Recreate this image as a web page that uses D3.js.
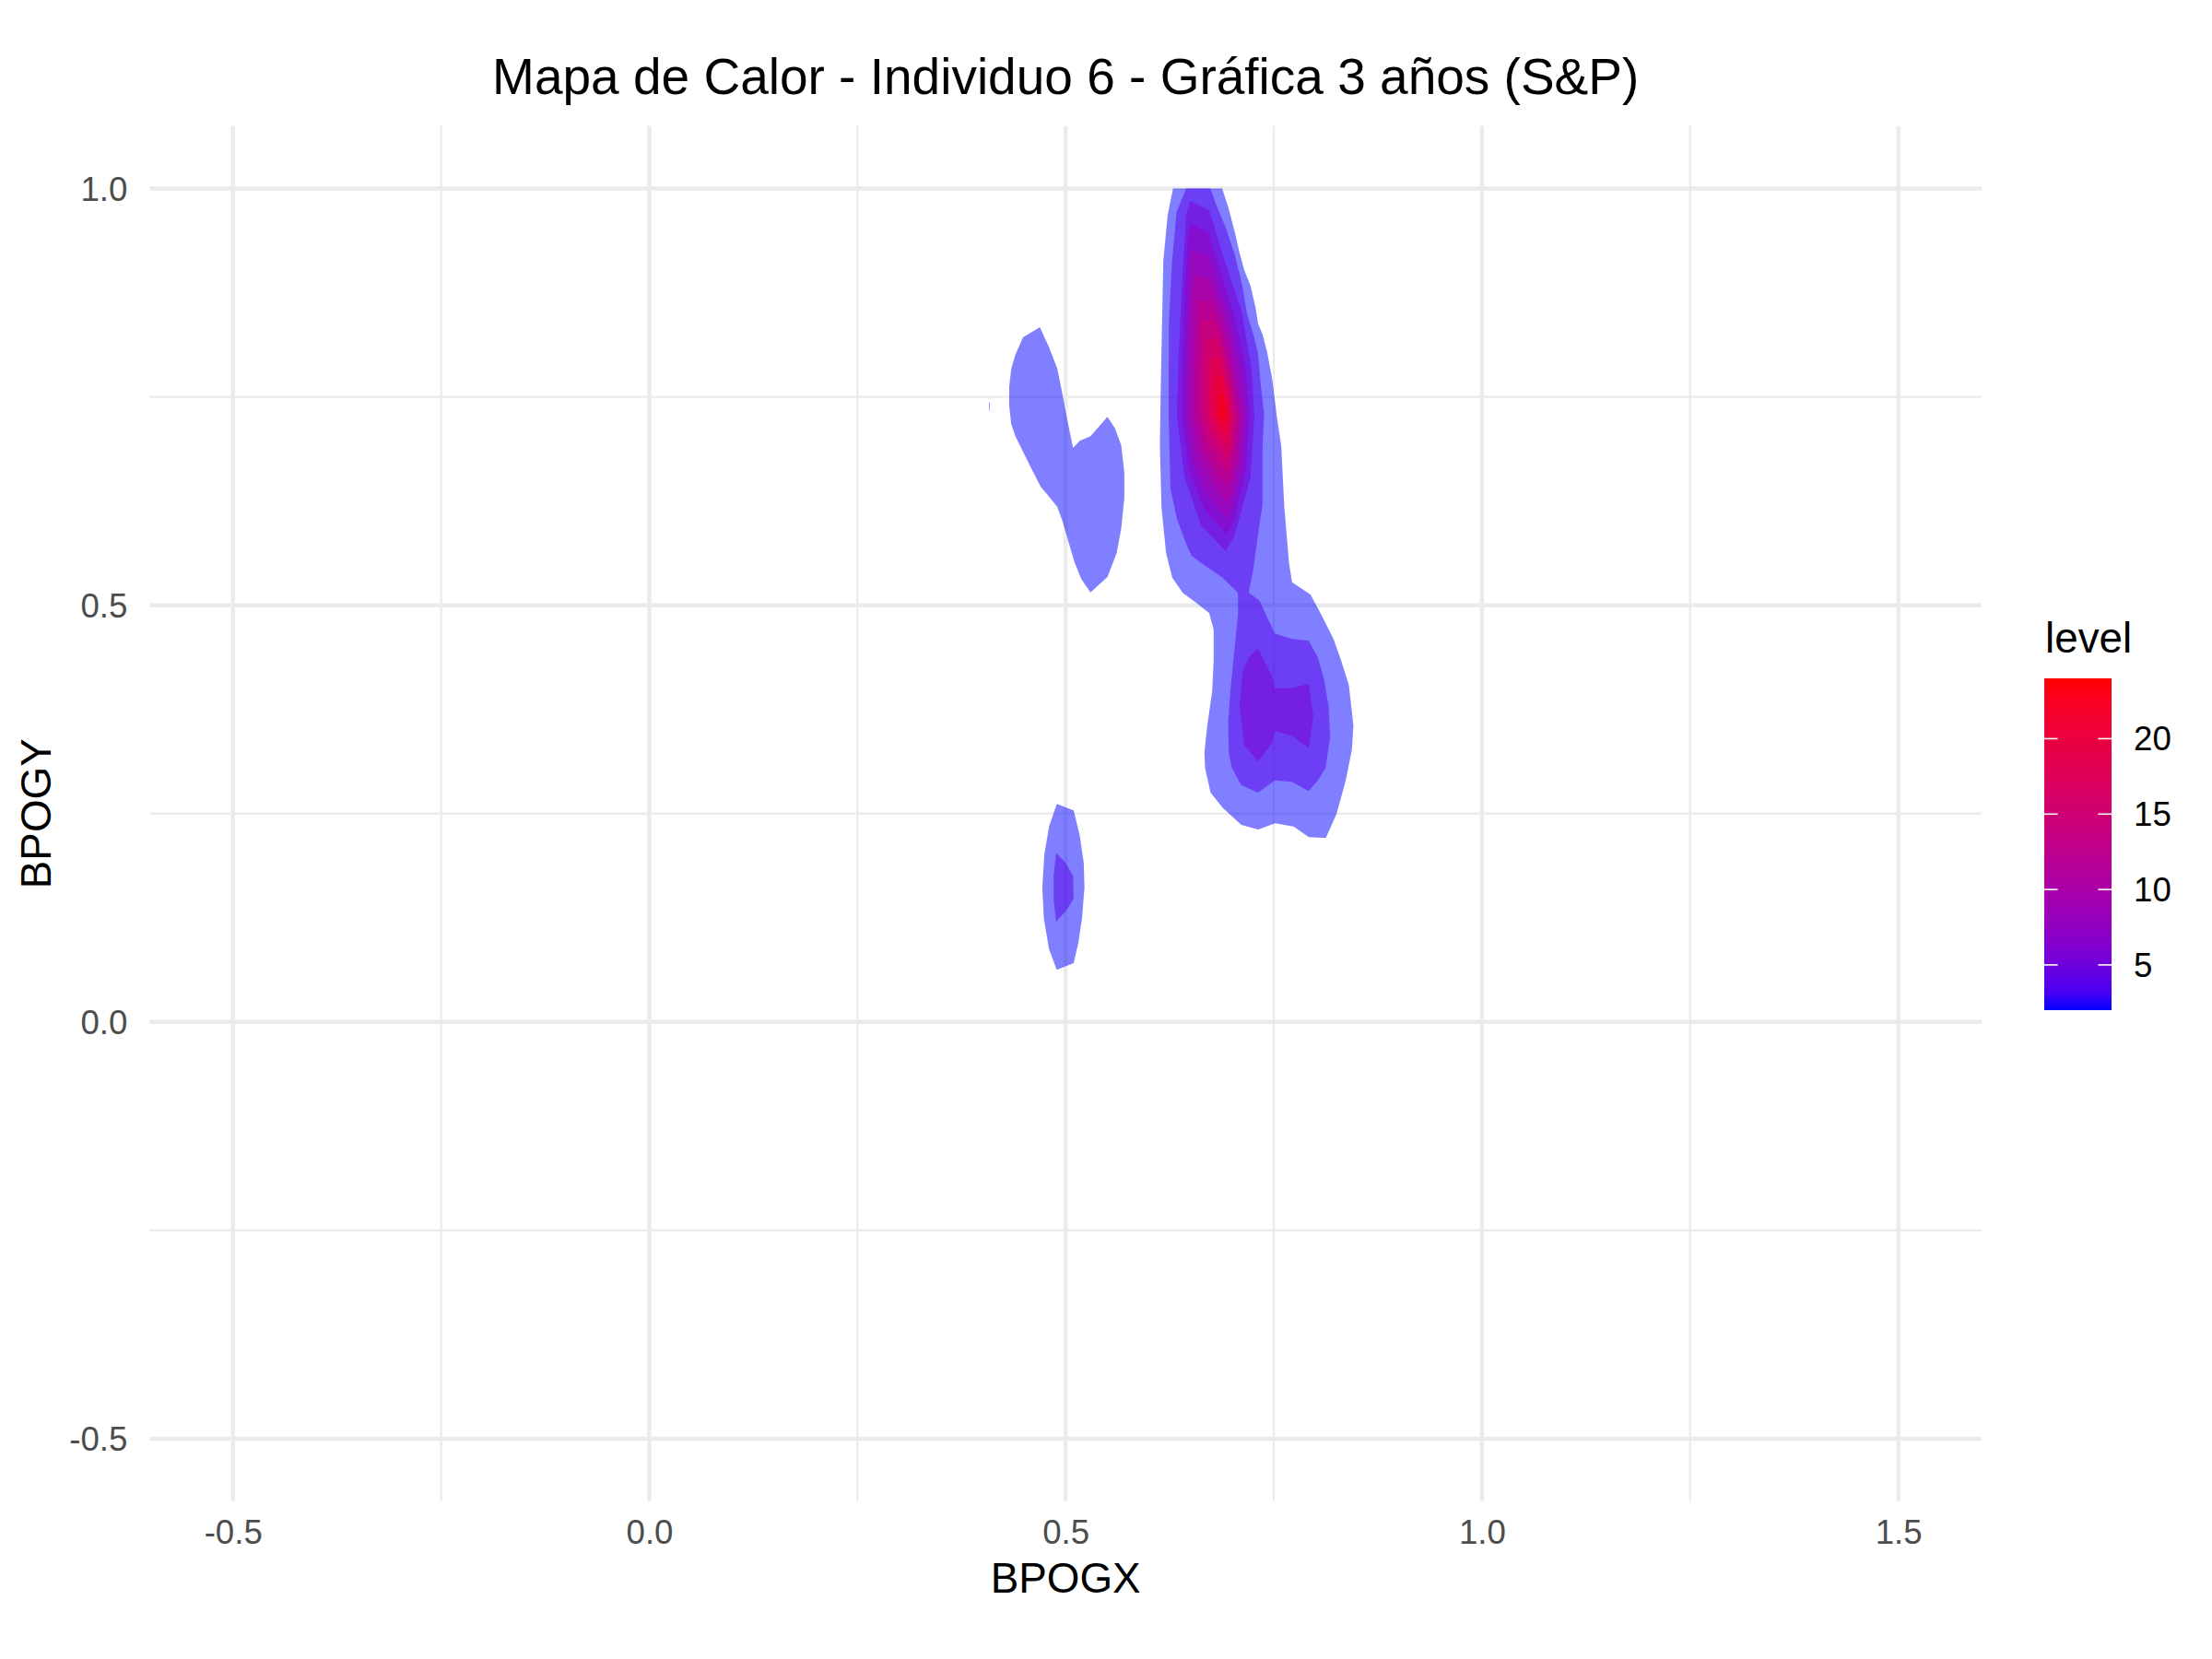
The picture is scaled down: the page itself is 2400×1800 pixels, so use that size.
<!DOCTYPE html>
<html>
<head>
<meta charset="utf-8">
<script src="https://cdn.jsdelivr.net/npm/d3@7"></script>
<style>
body { margin: 0; background: white; }
text { font-family: "Liberation Sans", Arial, Helvetica, sans-serif; }
</style>
</head>
<body>
<svg width="2400" height="1800"></svg>
<script>
// tick values and labels
const xTicks = [-0.5, 0, 0.5, 1, 1.5]
const xTickLabels = ['-0.5', '0.0', '0.5', '1.0', '1.5']
const xMinor = [-0.25, 0.25, 0.75, 1.25]
const yTicks = [-0.5, 0, 0.5, 1]
const yTickLabels = ['-0.5', '0.0', '0.5', '1.0']
const yMinor = [-0.25, 0.25, 0.75]
const legendTicks = [5, 10, 15, 20]
const levelRange = [2, 24]

// contour polygons, one array per level piece, in data units [BPOGX, BPOGY]
const level2Main = [[0.629,1.0],[0.688,1.0],[0.6955,0.9771],[0.7036,0.9458],[0.7091,0.9219],[0.7147,0.9016],[0.7221,0.8832],[0.7276,0.8592],[0.7313,0.8371],[0.7368,0.8242],[0.7423,0.8021],[0.7479,0.7726],[0.7534,0.7283],[0.7589,0.6915],[0.7626,0.6178],[0.7682,0.5514],[0.7719,0.5276],[0.794,0.5129],[0.8069,0.4889],[0.8217,0.4595],[0.8309,0.4337],[0.8401,0.4042],[0.8456,0.3562],[0.8438,0.3268],[0.8364,0.2899],[0.8253,0.2494],[0.8124,0.2206],[0.7921,0.2217],[0.7737,0.2346],[0.7516,0.2383],[0.7313,0.2309],[0.711,0.2365],[0.6889,0.2567],[0.6741,0.2752],[0.6675,0.3046],[0.6667,0.3231],[0.6697,0.3526],[0.676,0.3968],[0.6778,0.4337],[0.6778,0.4705],[0.6723,0.4908],[0.6557,0.5037],[0.6409,0.5147],[0.628,0.5332],[0.6206,0.5627],[0.6188,0.5809],[0.6151,0.6178],[0.6132,0.6915],[0.6143,0.7652],[0.6158,0.8389],[0.6173,0.9126],[0.6225,0.9679]]
const level2Left = [[0.469,0.8336],[0.4801,0.8096],[0.49,0.7838],[0.496,0.7543],[0.5022,0.7211],[0.5089,0.6887],[0.517,0.6973],[0.5299,0.7028],[0.5502,0.726],[0.5594,0.712],[0.5668,0.6917],[0.5705,0.6585],[0.5705,0.629],[0.5668,0.5922],[0.5613,0.5627],[0.5502,0.5339],[0.5299,0.5155],[0.5188,0.5314],[0.5107,0.5516],[0.5041,0.5737],[0.4967,0.5995],[0.49,0.618],[0.4783,0.6327],[0.4701,0.642],[0.4598,0.6622],[0.4488,0.6843],[0.4396,0.7028],[0.4347,0.7175],[0.4322,0.7396],[0.4322,0.7617],[0.4347,0.7838],[0.4396,0.8004],[0.4488,0.8214]]
const level2Small = [[0.4894,0.2615],[0.5096,0.2538],[0.517,0.2235],[0.5218,0.1903],[0.5226,0.1609],[0.5196,0.1239],[0.5152,0.0945],[0.5096,0.0705],[0.4894,0.0625],[0.4801,0.0871],[0.4739,0.1239],[0.472,0.1609],[0.4745,0.2013],[0.4801,0.2345]]
const level2Speck = [[0.408,0.7435],[0.409,0.743],[0.4088,0.733],[0.4082,0.733]]
const level4Main = [[0.6447,1.0],[0.6738,1.0],[0.6812,0.9796],[0.6923,0.953],[0.7033,0.9199],[0.7122,0.8834],[0.7177,0.8502],[0.7255,0.8248],[0.731,0.8026],[0.7343,0.765],[0.7384,0.7285],[0.7365,0.6921],[0.7365,0.6213],[0.731,0.5848],[0.7255,0.5439],[0.7199,0.5151],[0.7329,0.5055],[0.7421,0.4853],[0.7513,0.4661],[0.7716,0.4595],[0.7919,0.4576],[0.8029,0.4374],[0.8103,0.4115],[0.8159,0.3783],[0.8177,0.3415],[0.8121,0.3047],[0.8029,0.2899],[0.7919,0.277],[0.7716,0.2881],[0.7513,0.2899],[0.731,0.2752],[0.7108,0.2843],[0.6997,0.3047],[0.6959,0.3231],[0.6953,0.36],[0.6978,0.3968],[0.7033,0.4521],[0.707,0.4889],[0.707,0.5148],[0.6886,0.5332],[0.6665,0.548],[0.6513,0.5594],[0.6447,0.5737],[0.6336,0.6036],[0.6259,0.6401],[0.6237,0.7285],[0.624,0.8391],[0.6278,0.9132],[0.6333,0.9718]]
const level4Small = [[0.4886,0.2032],[0.5004,0.1903],[0.5089,0.1756],[0.5096,0.1479],[0.5004,0.1332],[0.4886,0.1203],[0.4856,0.1461],[0.4856,0.1756]]
const level6Main = [[0.6491,0.9851],[0.6724,0.974],[0.689,0.9199],[0.7111,0.8535],[0.7233,0.7838],[0.7266,0.7285],[0.7222,0.6545],[0.7033,0.5848],[0.6923,0.5649],[0.6624,0.5958],[0.6425,0.6545],[0.6336,0.7285],[0.6358,0.8026],[0.6403,0.8944],[0.6447,0.9685]]
const level6Lower = [[0.731,0.4484],[0.7476,0.4153],[0.7513,0.4005],[0.7716,0.4005],[0.7919,0.406],[0.7975,0.3673],[0.7919,0.3286],[0.7716,0.3434],[0.7513,0.3489],[0.7476,0.3341],[0.731,0.3128],[0.7144,0.3323],[0.7089,0.3783],[0.7126,0.4208],[0.72,0.4374]]
const level8 = [[0.6491,0.9574],[0.6712,0.9475],[0.6845,0.9055],[0.7033,0.8447],[0.7166,0.7838],[0.721,0.7285],[0.7166,0.662],[0.7022,0.6012],[0.6934,0.5848],[0.6668,0.6146],[0.648,0.662],[0.6392,0.7285],[0.6403,0.8004],[0.6436,0.8889],[0.6469,0.9409]]
const level10 = [[0.6502,0.9276],[0.6712,0.9188],[0.6967,0.8447],[0.71,0.7838],[0.7166,0.7285],[0.7122,0.6677],[0.7,0.618],[0.6934,0.6036],[0.6712,0.6312],[0.6535,0.6699],[0.6447,0.7285],[0.6458,0.7949],[0.648,0.8723]]
const level12 = [[0.6535,0.8966],[0.6735,0.89],[0.6923,0.8369],[0.7044,0.7783],[0.7122,0.7285],[0.7078,0.6732],[0.6989,0.6356],[0.6934,0.6235],[0.6757,0.6478],[0.6591,0.6788],[0.6502,0.7285],[0.6502,0.7894],[0.6513,0.8557]]
const level14 = [[0.658,0.8668],[0.6757,0.8635],[0.6901,0.8259],[0.7011,0.775],[0.7089,0.7285],[0.7044,0.6788],[0.6978,0.6533],[0.6934,0.6434],[0.679,0.6622],[0.6646,0.6876],[0.6558,0.7285],[0.6558,0.7838],[0.6569,0.8336]]
const level16 = [[0.6635,0.8424],[0.679,0.8413],[0.689,0.8115],[0.6978,0.7706],[0.7055,0.7285],[0.7011,0.6865],[0.6934,0.66],[0.6701,0.6954],[0.6613,0.7285],[0.6613,0.7783],[0.6624,0.817]]
const level18 = [[0.669,0.8192],[0.6812,0.8203],[0.6901,0.7949],[0.6967,0.7639],[0.7022,0.7285],[0.6989,0.6954],[0.6934,0.6766],[0.6746,0.7042],[0.6668,0.7285],[0.6668,0.7706],[0.6679,0.8004]]
const level20 = [[0.6746,0.7949],[0.6845,0.7993],[0.6945,0.7562],[0.6989,0.7285],[0.6967,0.7042],[0.6923,0.691],[0.679,0.712],[0.6724,0.7285],[0.6724,0.7673]]
const level22 = [[0.6801,0.7728],[0.6878,0.7772],[0.6934,0.7485],[0.6956,0.7285],[0.6923,0.7053],[0.6834,0.7175],[0.6779,0.7285],[0.6779,0.7529]]
const level24 = [[0.6856,0.7507],[0.6901,0.7529],[0.6934,0.7285],[0.6912,0.7175],[0.6834,0.7285]]

// table of pieces with their level, drawn from low to high
const contours = [
  {level: 2, points: level2Main},
  {level: 2, points: level2Left},
  {level: 2, points: level2Small},
  {level: 2, points: level2Speck},
  {level: 4, points: level4Main},
  {level: 4, points: level4Small},
  {level: 6, points: level6Main},
  {level: 6, points: level6Lower},
  {level: 8, points: level8},
  {level: 10, points: level10},
  {level: 12, points: level12},
  {level: 14, points: level14},
  {level: 16, points: level16},
  {level: 18, points: level18},
  {level: 20, points: level20},
  {level: 22, points: level22},
  {level: 24, points: level24}
]

const svg = d3
.select('svg')

svg
.append('rect')
.attr('width', 2400)
.attr('height', 1800)
.attr('fill', 'white')

// panel box in pixels
const panel = {left: 162.4, right: 2150, top: 136.7, bottom: 1628.8}

const x = d3.scaleLinear()
.domain([-0.6, 1.6])
.range([panel.left, panel.right])

const y = d3.scaleLinear()
.domain([-0.575, 1.075])
.range([panel.bottom, panel.top])

const color = d3.scaleLinear()
.domain(levelRange)
.range(['blue', 'red'])
.interpolate(d3.interpolateLab)

// grid lines, minor first
const grid = svg.append('g')

grid
.selectAll('.xminor')
.data(xMinor)
.enter()
.append('line')
.attr('x1', d => x(d))
.attr('x2', d => x(d))
.attr('y1', panel.top)
.attr('y2', panel.bottom)
.attr('stroke', '#ebebeb')
.attr('stroke-width', 2.3)

grid
.selectAll('.yminor')
.data(yMinor)
.enter()
.append('line')
.attr('y1', d => y(d))
.attr('y2', d => y(d))
.attr('x1', panel.left)
.attr('x2', panel.right)
.attr('stroke', '#ebebeb')
.attr('stroke-width', 2.3)

grid
.selectAll('.xmajor')
.data(xTicks)
.enter()
.append('line')
.attr('x1', d => x(d))
.attr('x2', d => x(d))
.attr('y1', panel.top)
.attr('y2', panel.bottom)
.attr('stroke', '#ebebeb')
.attr('stroke-width', 4.5)

grid
.selectAll('.ymajor')
.data(yTicks)
.enter()
.append('line')
.attr('y1', d => y(d))
.attr('y2', d => y(d))
.attr('x1', panel.left)
.attr('x2', panel.right)
.attr('stroke', '#ebebeb')
.attr('stroke-width', 4.5)

// density contour polygons, half transparent
const line = d3.line()
.x(d => x(d[0]))
.y(d => y(d[1]))
.curve(d3.curveLinearClosed)

svg
.append('g')
.selectAll('path')
.data(contours)
.enter()
.append('path')
.attr('d', d => line(d.points))
.attr('fill', d => color(d.level))
.attr('fill-opacity', 0.5)

// axes with labels only
const xAxis = svg
.append('g')
.attr('transform', `translate(0, ${panel.bottom})`)
.call(d3.axisBottom(x).tickValues(xTicks).tickSize(0).tickFormat((d, i) => xTickLabels[i]))

const yAxis = svg
.append('g')
.attr('transform', `translate(${panel.left}, 0)`)
.call(d3.axisLeft(y).tickValues(yTicks).tickSize(0).tickFormat((d, i) => yTickLabels[i]))

xAxis.select('.domain').remove()
yAxis.select('.domain').remove()

xAxis
.selectAll('text')
.attr('font-size', 36.7)
.attr('fill', '#4d4d4d')
.attr('font-family', '"Liberation Sans", Arial, sans-serif')
.attr('dy', null)
.attr('y', 46)

yAxis
.selectAll('text')
.attr('font-size', 36.7)
.attr('fill', '#4d4d4d')
.attr('font-family', '"Liberation Sans", Arial, sans-serif')
.attr('dy', '0.35em')
.attr('x', -24)

// titles
svg
.append('text')
.attr('x', (panel.left + panel.right) / 2)
.attr('y', 101.7)
.attr('text-anchor', 'middle')
.attr('font-size', 55)
.text('Mapa de Calor - Individuo 6 - Gráfica 3 años (S&P)')

svg
.append('text')
.attr('x', (panel.left + panel.right) / 2)
.attr('y', 1727.7)
.attr('text-anchor', 'middle')
.attr('font-size', 45.8)
.text('BPOGX')

svg
.append('text')
.attr('transform', `translate(55, ${(panel.top + panel.bottom) / 2}) rotate(-90)`)
.attr('text-anchor', 'middle')
.attr('font-size', 45.8)
.text('BPOGY')

// colour bar legend
const bar = {left: 2218, width: 73, top: 736, bottom: 1096}

const legendY = d3.scaleLinear()
.domain(levelRange)
.range([bar.bottom, bar.top])

const grad = svg
.append('defs')
.append('linearGradient')
.attr('id', 'levelGrad')
.attr('x1', 0).attr('x2', 0)
.attr('y1', 1).attr('y2', 0)

grad
.selectAll('stop')
.data(d3.range(0, 1.0001, 0.05))
.enter()
.append('stop')
.attr('offset', d => `${d * 100}%`)
.attr('stop-color', d => color(levelRange[0] + d * (levelRange[1] - levelRange[0])))

svg
.append('rect')
.attr('x', bar.left)
.attr('y', bar.top)
.attr('width', bar.width)
.attr('height', bar.bottom - bar.top)
.attr('fill', 'url(#levelGrad)')

const legendTick = svg
.append('g')
.selectAll('g')
.data(legendTicks)
.enter()
.append('g')

legendTick
.append('line')
.attr('x1', bar.left)
.attr('x2', bar.left + bar.width / 5)
.attr('y1', d => legendY(d))
.attr('y2', d => legendY(d))
.attr('stroke', 'white')
.attr('stroke-width', 1.6)

legendTick
.append('line')
.attr('x1', bar.left + bar.width - bar.width / 5)
.attr('x2', bar.left + bar.width)
.attr('y1', d => legendY(d))
.attr('y2', d => legendY(d))
.attr('stroke', 'white')
.attr('stroke-width', 1.6)

legendTick
.append('text')
.attr('x', 2315)
.attr('y', d => legendY(d))
.attr('dy', '0.35em')
.attr('font-size', 36.7)
.text(d => d)

svg
.append('text')
.attr('x', 2219)
.attr('y', 708)
.attr('font-size', 45.8)
.text('level')
</script>
</body>
</html>
